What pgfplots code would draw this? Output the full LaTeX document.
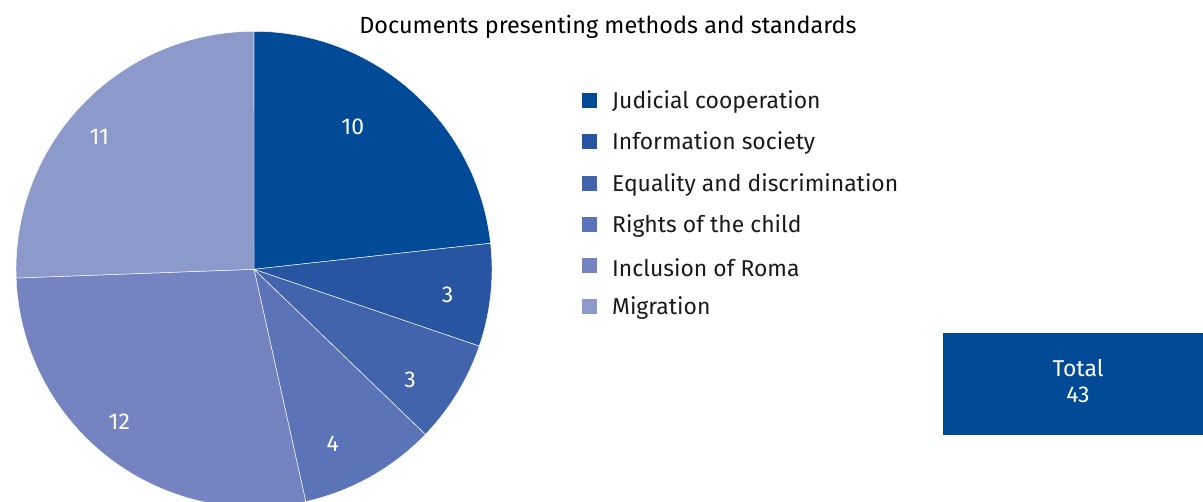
\documentclass[border=0pt]{standalone}
\usepackage{pgfplots}
\pgfplotsset{compat=1.18}
\usepackage{pgfplotstable}
\usepackage{fontspec}
\setmainfont{Fira Sans}
\definecolor{c0}{HTML}{004A98}
\definecolor{c1}{HTML}{2855A2}
\definecolor{c2}{HTML}{4264AD}
\definecolor{c3}{HTML}{5A74B7}
\definecolor{c4}{HTML}{7584C0}
\definecolor{c5}{HTML}{8C9ACB}
\definecolor{txt}{HTML}{1A1A1A}

% value, label position (x, y in picture units)
\pgfplotstableread[col sep=comma]{
value,lx,ly
10,352.7,374.7
3,447.7,207
3,410,122
4,332.7,58.7
12,119.3,80.3
11,99.3,365.3
}\piedata

% total and cumulative angles (clockwise from 90 degrees)
\xdef\pietotal{0}
\foreach \i in {0,...,5}{%
  \pgfplotstablegetelem{\i}{value}\of\piedata
  \pgfmathtruncatemacro\tmp{\pietotal+\pgfplotsretval}%
  \xdef\pietotal{\tmp}%
}
\xdef\cumang{90}
\foreach \i in {0,...,5}{%
  \pgfplotstablegetelem{\i}{value}\of\piedata
  \pgfmathsetmacro\endang{\cumang-\pgfplotsretval/\pietotal*360}%
  \expandafter\xdef\csname sa\i\endcsname{\cumang}%
  \expandafter\xdef\csname ea\i\endcsname{\endang}%
  \xdef\cumang{\endang}%
}
\newcommand\lfont{\fontsize{23}{27}\selectfont}
\newcommand\tfont{\fontsize{23.5}{28}\selectfont}

\begin{document}
\begin{tikzpicture}
\begin{axis}[name=ax,
  width=1203bp, height=502bp, scale only axis,
  xmin=0, xmax=1203, ymin=0, ymax=502,
  hide axis,
  /pgf/number format/assume math mode=true,
]
\pgfplotsinvokeforeach{0,...,5}{
  \fill[c#1, draw=white, line width=0.45bp, line join=round]
    (axis cs:254,232.7) -- ++(\csname sa#1\endcsname:238bp)
    arc[start angle=\csname sa#1\endcsname, end angle=\csname ea#1\endcsname, radius=238bp] -- cycle;
}
\addplot[draw=none, mark=none, nodes near coords={\pgfmathprintnumber{\pgfplotspointmeta}},
  point meta=explicit,
  every node near coord/.append style={anchor=center, white, font=\lfont}]
  table[col sep=comma, x=lx, y=ly, meta=value]{\piedata};

\node[font=\tfont, text=black] at (axis cs:608,475) {Documents presenting methods and standards};

\fill[c0] (axis cs:582,393.5) rectangle (axis cs:597,408.5);
\node[anchor=west, inner sep=0pt, text=txt, font=\lfont] at (axis cs:612,399.5) {Judicial cooperation};
\fill[c1] (axis cs:582,352.5) rectangle (axis cs:597,367.5);
\node[anchor=west, inner sep=0pt, text=txt, font=\lfont] at (axis cs:612,358.5) {Information society};
\fill[c2] (axis cs:582,310.5) rectangle (axis cs:597,325.5);
\node[anchor=west, inner sep=0pt, text=txt, font=\lfont] at (axis cs:612,316.5) {Equality and discrimination};
\fill[c3] (axis cs:582,269.5) rectangle (axis cs:597,284.5);
\node[anchor=west, inner sep=0pt, text=txt, font=\lfont] at (axis cs:612,275.5) {Rights of the child};
\fill[c4] (axis cs:582,228.5) rectangle (axis cs:597,243.5);
\node[anchor=west, inner sep=0pt, text=txt, font=\lfont] at (axis cs:612,234.5) {Inclusion of Roma};
\fill[c5] (axis cs:582,187.5) rectangle (axis cs:597,202.5);
\node[anchor=west, inner sep=0pt, text=txt, font=\lfont] at (axis cs:612,193.5) {Migration};

\fill[c0] (axis cs:943,67) rectangle (axis cs:1203,169);
\node[white, font=\lfont] at (axis cs:1078,134) {Total};
\node[white, font=\lfont] at (axis cs:1078,107) {\pietotal};
\end{axis}
\pgfresetboundingbox
\useasboundingbox (ax.south west) rectangle (ax.north east);
\end{tikzpicture}
\end{document}
